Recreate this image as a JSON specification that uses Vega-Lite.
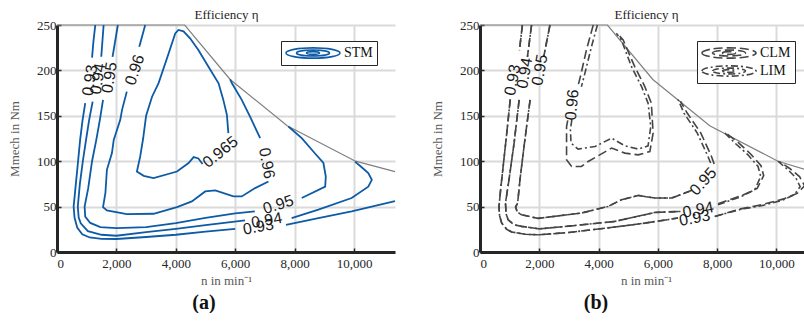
{
"$schema": "https://vega.github.io/schema/vega-lite/v6.json",
"padding": {"left": 8, "top": 8, "right": 0, "bottom": 0},
"spacing": 32,
"config": {
 "font": "Liberation Serif",
 "view": {"stroke": null},
 "style": {"guide-label": {"font": "Liberation Serif"}, "guide-title": {"font": "Liberation Serif"}},
 "legend": {"orient": "none", "legendY": 16, "padding": 4, "strokeColor": "#262626", "fillColor": "white", "labelFont": "Liberation Serif", "labelFontSize": 14, "labelColor": "#111111", "labelOffset": 3, "clipHeight": 16, "rowPadding": 2, "symbolSize": 2916, "symbolStrokeWidth": 1.6, "symbolFillColor": "transparent", "symbolType": "M-1,0A1,0.19,0,1,1,1,0A1,0.19,0,1,1,-1,0M-0.61,0A0.61,0.11,0,1,1,0.61,0A0.61,0.11,0,1,1,-0.61,0M-0.24,0A0.24,0.05,0,1,1,0.24,0A0.24,0.05,0,1,1,-0.24,0"},
 "title": {"font": "Liberation Serif", "fontSize": 20, "fontWeight": "bold", "color": "#111111", "orient": "bottom", "offset": 6}
},
"datasets": {
 "envA": [{"n":0,"M":250},{"n":4300,"M":250},{"n":5830,"M":190},{"n":7750,"M":139},{"n":10050,"M":100},{"n":11380,"M":88.5}],
 "envB": [{"n":0,"M":250},{"n":4300,"M":250},{"n":5830,"M":190},{"n":7750,"M":139},{"n":10050,"M":100},{"n":11200,"M":88.5}],
 "cA": [
  {"model":"STM","seg":"93a","i":1,"n":1290,"M":250},{"model":"STM","seg":"93a","i":2,"n":1230,"M":233},{"model":"STM","seg":"93a","i":3,"n":1180,"M":214},
  {"model":"STM","seg":"93b","i":4,"n":950,"M":164},{"model":"STM","seg":"93b","i":5,"n":860,"M":145},{"model":"STM","seg":"93b","i":6,"n":780,"M":124},{"model":"STM","seg":"93b","i":7,"n":710,"M":100},{"model":"STM","seg":"93b","i":8,"n":620,"M":70},{"model":"STM","seg":"93b","i":9,"n":560,"M":50},{"model":"STM","seg":"93b","i":10,"n":590,"M":38},{"model":"STM","seg":"93b","i":11,"n":680,"M":27},{"model":"STM","seg":"93b","i":12,"n":850,"M":19.5},{"model":"STM","seg":"93b","i":13,"n":1100,"M":16},{"model":"STM","seg":"93b","i":14,"n":1500,"M":14.5},{"model":"STM","seg":"93b","i":15,"n":2000,"M":14.3},{"model":"STM","seg":"93b","i":16,"n":3000,"M":16.5},{"model":"STM","seg":"93b","i":17,"n":4000,"M":19},{"model":"STM","seg":"93b","i":18,"n":5000,"M":22.5},{"model":"STM","seg":"93b","i":19,"n":6000,"M":25.5},
  {"model":"STM","seg":"93c","i":20,"n":7710,"M":30},{"model":"STM","seg":"93c","i":21,"n":8800,"M":37.4},{"model":"STM","seg":"93c","i":22,"n":9920,"M":44.7},{"model":"STM","seg":"93c","i":23,"n":11380,"M":56},
  {"model":"STM","seg":"94a","i":24,"n":1570,"M":250},{"model":"STM","seg":"94a","i":25,"n":1490,"M":215},
  {"model":"STM","seg":"94b","i":26,"n":1200,"M":165.6},{"model":"STM","seg":"94b","i":27,"n":1080,"M":145},{"model":"STM","seg":"94b","i":28,"n":980,"M":124},{"model":"STM","seg":"94b","i":29,"n":870,"M":100},{"model":"STM","seg":"94b","i":30,"n":770,"M":75},{"model":"STM","seg":"94b","i":31,"n":700,"M":50},{"model":"STM","seg":"94b","i":32,"n":730,"M":38},{"model":"STM","seg":"94b","i":33,"n":800,"M":31.6},{"model":"STM","seg":"94b","i":34,"n":1040,"M":23},{"model":"STM","seg":"94b","i":35,"n":1500,"M":19},{"model":"STM","seg":"94b","i":36,"n":2000,"M":17.9},{"model":"STM","seg":"94b","i":37,"n":3000,"M":22},{"model":"STM","seg":"94b","i":38,"n":4000,"M":25.5},{"model":"STM","seg":"94b","i":39,"n":5000,"M":29.5},{"model":"STM","seg":"94b","i":40,"n":6330,"M":34.8},
  {"model":"STM","seg":"94c","i":41,"n":7900,"M":37.4},{"model":"STM","seg":"94c","i":42,"n":8800,"M":46.6},{"model":"STM","seg":"94c","i":43,"n":9920,"M":59.4},{"model":"STM","seg":"94c","i":44,"n":10480,"M":72},{"model":"STM","seg":"94c","i":45,"n":10600,"M":79.5},{"model":"STM","seg":"94c","i":46,"n":10480,"M":87},{"model":"STM","seg":"94c","i":47,"n":10200,"M":95},{"model":"STM","seg":"94c","i":48,"n":10030,"M":99.5},
  {"model":"STM","seg":"95a","i":49,"n":2050,"M":250},{"model":"STM","seg":"95a","i":50,"n":1870,"M":215},
  {"model":"STM","seg":"95b","i":51,"n":1550,"M":167.5},{"model":"STM","seg":"95b","i":52,"n":1440,"M":145},{"model":"STM","seg":"95b","i":53,"n":1320,"M":123},{"model":"STM","seg":"95b","i":54,"n":1180,"M":100},{"model":"STM","seg":"95b","i":55,"n":1050,"M":70},{"model":"STM","seg":"95b","i":56,"n":930,"M":50},{"model":"STM","seg":"95b","i":57,"n":950,"M":39},{"model":"STM","seg":"95b","i":58,"n":1120,"M":32},{"model":"STM","seg":"95b","i":59,"n":1460,"M":27.5},{"model":"STM","seg":"95b","i":60,"n":2000,"M":26.2},{"model":"STM","seg":"95b","i":61,"n":3000,"M":27.5},{"model":"STM","seg":"95b","i":62,"n":4000,"M":31.9},{"model":"STM","seg":"95b","i":63,"n":5000,"M":37.5},{"model":"STM","seg":"95b","i":64,"n":6000,"M":42.5},{"model":"STM","seg":"95b","i":65,"n":6660,"M":44.7},
  {"model":"STM","seg":"95c","i":66,"n":8240,"M":59.5},{"model":"STM","seg":"95c","i":67,"n":9030,"M":72},{"model":"STM","seg":"95c","i":68,"n":9050,"M":83},{"model":"STM","seg":"95c","i":69,"n":8970,"M":98},{"model":"STM","seg":"95c","i":70,"n":8630,"M":110.7},{"model":"STM","seg":"95c","i":71,"n":8240,"M":125.4},{"model":"STM","seg":"95c","i":72,"n":7790,"M":138.2},
  {"model":"STM","seg":"96a","i":73,"n":2970,"M":250},{"model":"STM","seg":"96a","i":74,"n":2770,"M":226},
  {"model":"STM","seg":"96b","i":75,"n":2350,"M":176.6},{"model":"STM","seg":"96b","i":76,"n":2190,"M":156.5},{"model":"STM","seg":"96b","i":77,"n":2130,"M":145.5},{"model":"STM","seg":"96b","i":78,"n":1910,"M":123.5},{"model":"STM","seg":"96b","i":79,"n":1850,"M":109},{"model":"STM","seg":"96b","i":80,"n":1680,"M":90.5},{"model":"STM","seg":"96b","i":81,"n":1630,"M":65},{"model":"STM","seg":"96b","i":82,"n":1550,"M":49.5},{"model":"STM","seg":"96b","i":83,"n":1680,"M":45.7},{"model":"STM","seg":"96b","i":84,"n":2350,"M":41.8},{"model":"STM","seg":"96b","i":85,"n":3250,"M":42.1},{"model":"STM","seg":"96b","i":86,"n":4040,"M":49.5},{"model":"STM","seg":"96b","i":87,"n":4540,"M":55.7},{"model":"STM","seg":"96b","i":88,"n":4990,"M":66.7},{"model":"STM","seg":"96b","i":89,"n":5330,"M":67.8},{"model":"STM","seg":"96b","i":90,"n":5940,"M":61.2},{"model":"STM","seg":"96b","i":91,"n":6220,"M":61.2},{"model":"STM","seg":"96b","i":92,"n":6670,"M":70.4},{"model":"STM","seg":"96b","i":93,"n":7120,"M":77.7},
  {"model":"STM","seg":"96c","i":94,"n":6840,"M":125.4},{"model":"STM","seg":"96c","i":95,"n":6500,"M":149},{"model":"STM","seg":"96c","i":96,"n":6220,"M":167.5},{"model":"STM","seg":"96c","i":97,"n":5890,"M":185.8},{"model":"STM","seg":"96c","i":98,"n":5830,"M":190},
  {"model":"STM","seg":"965","i":99,"n":5770,"M":130.9},{"model":"STM","seg":"965","i":100,"n":5720,"M":151},{"model":"STM","seg":"965","i":101,"n":5600,"M":167.5},{"model":"STM","seg":"965","i":102,"n":5440,"M":185.8},{"model":"STM","seg":"965","i":103,"n":5100,"M":204},{"model":"STM","seg":"965","i":104,"n":4760,"M":222.4},{"model":"STM","seg":"965","i":105,"n":4480,"M":235.3},{"model":"STM","seg":"965","i":106,"n":4260,"M":243},{"model":"STM","seg":"965","i":107,"n":4090,"M":244.5},{"model":"STM","seg":"965","i":108,"n":3980,"M":240.8},{"model":"STM","seg":"965","i":109,"n":3760,"M":218.8},{"model":"STM","seg":"965","i":110,"n":3420,"M":186},{"model":"STM","seg":"965","i":111,"n":3200,"M":171},{"model":"STM","seg":"965","i":112,"n":3000,"M":150},{"model":"STM","seg":"965","i":113,"n":2900,"M":125},{"model":"STM","seg":"965","i":114,"n":2800,"M":105},{"model":"STM","seg":"965","i":115,"n":2690,"M":88.6},{"model":"STM","seg":"965","i":116,"n":2920,"M":83.9},{"model":"STM","seg":"965","i":117,"n":3250,"M":81.4},{"model":"STM","seg":"965","i":118,"n":4040,"M":88.6},{"model":"STM","seg":"965","i":119,"n":4430,"M":98},{"model":"STM","seg":"965","i":120,"n":4600,"M":104.5},{"model":"STM","seg":"965","i":121,"n":4760,"M":103},{"model":"STM","seg":"965","i":122,"n":4900,"M":97}
 ],
 "cB": [
  {"model":"LIM","seg":"L93a","i":1,"n":1430,"M":250},{"model":"LIM","seg":"L93a","i":2,"n":1330,"M":222},
  {"model":"LIM","seg":"L93b","i":3,"n":1020,"M":168},{"model":"LIM","seg":"L93b","i":4,"n":900,"M":130},{"model":"LIM","seg":"L93b","i":5,"n":800,"M":100},{"model":"LIM","seg":"L93b","i":6,"n":700,"M":70},{"model":"LIM","seg":"L93b","i":7,"n":640,"M":50},{"model":"LIM","seg":"L93b","i":8,"n":660,"M":40},{"model":"LIM","seg":"L93b","i":9,"n":730,"M":32},{"model":"LIM","seg":"L93b","i":10,"n":900,"M":25},{"model":"LIM","seg":"L93b","i":11,"n":1070,"M":22},{"model":"LIM","seg":"L93b","i":12,"n":1520,"M":19.5},{"model":"LIM","seg":"L93b","i":13,"n":2000,"M":19},{"model":"LIM","seg":"L93b","i":14,"n":3000,"M":21.5},{"model":"LIM","seg":"L93b","i":15,"n":4550,"M":27.5},{"model":"LIM","seg":"L93b","i":16,"n":5500,"M":31.5},{"model":"LIM","seg":"L93b","i":17,"n":6680,"M":37.4},
  {"model":"LIM","seg":"L93c","i":18,"n":7920,"M":39.2},{"model":"LIM","seg":"L93c","i":19,"n":8800,"M":47},{"model":"LIM","seg":"L93c","i":20,"n":9500,"M":51},{"model":"LIM","seg":"L93c","i":21,"n":10200,"M":57},{"model":"LIM","seg":"L93c","i":22,"n":10600,"M":63},{"model":"LIM","seg":"L93c","i":23,"n":10800,"M":72},{"model":"LIM","seg":"L93c","i":24,"n":10650,"M":82},{"model":"LIM","seg":"L93c","i":25,"n":10390,"M":90.5},{"model":"LIM","seg":"L93c","i":26,"n":10050,"M":100},
  {"model":"LIM","seg":"L94a","i":27,"n":1740,"M":250},{"model":"LIM","seg":"L94a","i":28,"n":1600,"M":215},
  {"model":"LIM","seg":"L94b","i":29,"n":1320,"M":167.5},{"model":"LIM","seg":"L94b","i":30,"n":1150,"M":120},{"model":"LIM","seg":"L94b","i":31,"n":980,"M":80},{"model":"LIM","seg":"L94b","i":32,"n":860,"M":54},{"model":"LIM","seg":"L94b","i":33,"n":880,"M":42},{"model":"LIM","seg":"L94b","i":34,"n":950,"M":35.5},{"model":"LIM","seg":"L94b","i":35,"n":1150,"M":30},{"model":"LIM","seg":"L94b","i":36,"n":1400,"M":28.2},{"model":"LIM","seg":"L94b","i":37,"n":2000,"M":25.5},{"model":"LIM","seg":"L94b","i":38,"n":3000,"M":28.5},{"model":"LIM","seg":"L94b","i":39,"n":4550,"M":33.7},{"model":"LIM","seg":"L94b","i":40,"n":5900,"M":43.6},{"model":"LIM","seg":"L94b","i":41,"n":6800,"M":44.7},
  {"model":"LIM","seg":"L94c","i":42,"n":8030,"M":52},{"model":"LIM","seg":"L94c","i":43,"n":8820,"M":61.2},{"model":"LIM","seg":"L94c","i":44,"n":9270,"M":68.5},{"model":"LIM","seg":"L94c","i":45,"n":9470,"M":83.2},{"model":"LIM","seg":"L94c","i":46,"n":9380,"M":94.2},{"model":"LIM","seg":"L94c","i":47,"n":9040,"M":107},{"model":"LIM","seg":"L94c","i":48,"n":8600,"M":120},{"model":"LIM","seg":"L94c","i":49,"n":8260,"M":131},
  {"model":"LIM","seg":"L95a","i":50,"n":2360,"M":250},{"model":"LIM","seg":"L95a","i":51,"n":2150,"M":215},
  {"model":"LIM","seg":"L95b","i":52,"n":1690,"M":167.5},{"model":"LIM","seg":"L95b","i":53,"n":1500,"M":120},{"model":"LIM","seg":"L95b","i":54,"n":1350,"M":80},{"model":"LIM","seg":"L95b","i":55,"n":1270,"M":54},{"model":"LIM","seg":"L95b","i":56,"n":1200,"M":49.5},{"model":"LIM","seg":"L95b","i":57,"n":1260,"M":44},{"model":"LIM","seg":"L95b","i":58,"n":1400,"M":41},{"model":"LIM","seg":"L95b","i":59,"n":1960,"M":37},{"model":"LIM","seg":"L95b","i":60,"n":3420,"M":42.9},{"model":"LIM","seg":"L95b","i":61,"n":4320,"M":50.2},{"model":"LIM","seg":"L95b","i":62,"n":4770,"M":57.5},{"model":"LIM","seg":"L95b","i":63,"n":5340,"M":62.3},{"model":"LIM","seg":"L95b","i":64,"n":5900,"M":59.4},{"model":"LIM","seg":"L95b","i":65,"n":6460,"M":59.4},{"model":"LIM","seg":"L95b","i":66,"n":6910,"M":64.9},{"model":"LIM","seg":"L95b","i":67,"n":7150,"M":68},
  {"model":"LIM","seg":"L95c","i":68,"n":7780,"M":98},{"model":"LIM","seg":"L95c","i":69,"n":7680,"M":106},{"model":"LIM","seg":"L95c","i":70,"n":7330,"M":131},{"model":"LIM","seg":"L95c","i":71,"n":6880,"M":153},{"model":"LIM","seg":"L95c","i":72,"n":6680,"M":168},
  {"model":"LIM","seg":"L96a","i":73,"n":3960,"M":250},{"model":"LIM","seg":"L96a","i":74,"n":3760,"M":226},{"model":"LIM","seg":"L96a","i":75,"n":3540,"M":197},{"model":"LIM","seg":"L96a","i":76,"n":3420,"M":182},
  {"model":"LIM","seg":"L96b","i":77,"n":3100,"M":146},{"model":"LIM","seg":"L96b","i":78,"n":3050,"M":135},{"model":"LIM","seg":"L96b","i":79,"n":3070,"M":119.9},{"model":"LIM","seg":"L96b","i":80,"n":3310,"M":113.3},{"model":"LIM","seg":"L96b","i":81,"n":3880,"M":116.2},{"model":"LIM","seg":"L96b","i":82,"n":4440,"M":125.4},{"model":"LIM","seg":"L96b","i":83,"n":4890,"M":116.9},{"model":"LIM","seg":"L96b","i":84,"n":5340,"M":113.3},{"model":"LIM","seg":"L96b","i":85,"n":5670,"M":116.9},{"model":"LIM","seg":"L96b","i":86,"n":5760,"M":138.1},{"model":"LIM","seg":"L96b","i":87,"n":5670,"M":163.9},{"model":"LIM","seg":"L96b","i":88,"n":5450,"M":182.2},{"model":"LIM","seg":"L96b","i":89,"n":5110,"M":204.1},{"model":"LIM","seg":"L96b","i":90,"n":4770,"M":233.5},{"model":"LIM","seg":"L96b","i":91,"n":4600,"M":241},
  {"model":"CLM","seg":"C93a","i":101,"n":1430,"M":250},{"model":"CLM","seg":"C93a","i":102,"n":1330,"M":222},
  {"model":"CLM","seg":"C93b","i":103,"n":1020,"M":168},{"model":"CLM","seg":"C93b","i":104,"n":900,"M":130},{"model":"CLM","seg":"C93b","i":105,"n":800,"M":100},{"model":"CLM","seg":"C93b","i":106,"n":700,"M":70},{"model":"CLM","seg":"C93b","i":107,"n":640,"M":50},{"model":"CLM","seg":"C93b","i":108,"n":660,"M":40},{"model":"CLM","seg":"C93b","i":109,"n":730,"M":32},{"model":"CLM","seg":"C93b","i":110,"n":900,"M":25},{"model":"CLM","seg":"C93b","i":111,"n":1070,"M":22},{"model":"CLM","seg":"C93b","i":112,"n":1520,"M":19.5},{"model":"CLM","seg":"C93b","i":113,"n":2000,"M":19},{"model":"CLM","seg":"C93b","i":114,"n":3000,"M":21.5},{"model":"CLM","seg":"C93b","i":115,"n":4550,"M":27.5},{"model":"CLM","seg":"C93b","i":116,"n":5500,"M":31.5},{"model":"CLM","seg":"C93b","i":117,"n":6680,"M":37.4},
  {"model":"CLM","seg":"C93c","i":118,"n":7920,"M":39.2},{"model":"CLM","seg":"C93c","i":119,"n":8800,"M":47.5},{"model":"CLM","seg":"C93c","i":120,"n":9500,"M":52},{"model":"CLM","seg":"C93c","i":121,"n":10250,"M":58.5},{"model":"CLM","seg":"C93c","i":122,"n":10700,"M":64.5},{"model":"CLM","seg":"C93c","i":123,"n":10950,"M":73},{"model":"CLM","seg":"C93c","i":124,"n":10780,"M":83},{"model":"CLM","seg":"C93c","i":125,"n":10450,"M":92},{"model":"CLM","seg":"C93c","i":126,"n":10100,"M":99.5},
  {"model":"CLM","seg":"C94a","i":127,"n":1740,"M":250},{"model":"CLM","seg":"C94a","i":128,"n":1600,"M":215},
  {"model":"CLM","seg":"C94b","i":129,"n":1320,"M":167.5},{"model":"CLM","seg":"C94b","i":130,"n":1150,"M":120},{"model":"CLM","seg":"C94b","i":131,"n":980,"M":80},{"model":"CLM","seg":"C94b","i":132,"n":860,"M":54},{"model":"CLM","seg":"C94b","i":133,"n":880,"M":42},{"model":"CLM","seg":"C94b","i":134,"n":950,"M":35.5},{"model":"CLM","seg":"C94b","i":135,"n":1150,"M":30},{"model":"CLM","seg":"C94b","i":136,"n":1400,"M":28.2},{"model":"CLM","seg":"C94b","i":137,"n":2000,"M":25.5},{"model":"CLM","seg":"C94b","i":138,"n":3000,"M":28.5},{"model":"CLM","seg":"C94b","i":139,"n":4550,"M":33.7},{"model":"CLM","seg":"C94b","i":140,"n":5900,"M":43.6},{"model":"CLM","seg":"C94b","i":141,"n":6800,"M":44.7},
  {"model":"CLM","seg":"C94c","i":142,"n":8030,"M":53},{"model":"CLM","seg":"C94c","i":143,"n":8850,"M":62.5},{"model":"CLM","seg":"C94c","i":144,"n":9350,"M":70},{"model":"CLM","seg":"C94c","i":145,"n":9570,"M":84},{"model":"CLM","seg":"C94c","i":146,"n":9480,"M":95},{"model":"CLM","seg":"C94c","i":147,"n":9130,"M":108},{"model":"CLM","seg":"C94c","i":148,"n":8700,"M":121},{"model":"CLM","seg":"C94c","i":149,"n":8330,"M":130},
  {"model":"CLM","seg":"C95a","i":150,"n":2360,"M":250},{"model":"CLM","seg":"C95a","i":151,"n":2150,"M":215},
  {"model":"CLM","seg":"C95b","i":152,"n":1690,"M":167.5},{"model":"CLM","seg":"C95b","i":153,"n":1500,"M":120},{"model":"CLM","seg":"C95b","i":154,"n":1350,"M":80},{"model":"CLM","seg":"C95b","i":155,"n":1270,"M":54},{"model":"CLM","seg":"C95b","i":156,"n":1200,"M":49.5},{"model":"CLM","seg":"C95b","i":157,"n":1260,"M":44},{"model":"CLM","seg":"C95b","i":158,"n":1400,"M":41},{"model":"CLM","seg":"C95b","i":159,"n":1960,"M":37},{"model":"CLM","seg":"C95b","i":160,"n":3420,"M":42.9},{"model":"CLM","seg":"C95b","i":161,"n":4320,"M":50.2},{"model":"CLM","seg":"C95b","i":162,"n":4770,"M":57.5},{"model":"CLM","seg":"C95b","i":163,"n":5340,"M":62.3},{"model":"CLM","seg":"C95b","i":164,"n":5900,"M":59.4},{"model":"CLM","seg":"C95b","i":165,"n":6460,"M":59.4},{"model":"CLM","seg":"C95b","i":166,"n":6910,"M":64.9},{"model":"CLM","seg":"C95b","i":167,"n":7150,"M":68},
  {"model":"CLM","seg":"C95c","i":168,"n":7900,"M":97},{"model":"CLM","seg":"C95c","i":169,"n":7800,"M":106},{"model":"CLM","seg":"C95c","i":170,"n":7450,"M":131},{"model":"CLM","seg":"C95c","i":171,"n":6990,"M":153},{"model":"CLM","seg":"C95c","i":172,"n":6760,"M":166},
  {"model":"CLM","seg":"C96a","i":173,"n":3820,"M":250},{"model":"CLM","seg":"C96a","i":174,"n":3590,"M":222.5},{"model":"CLM","seg":"C96a","i":175,"n":3400,"M":195},{"model":"CLM","seg":"C96a","i":176,"n":3300,"M":182},
  {"model":"CLM","seg":"C96b","i":177,"n":2960,"M":145},{"model":"CLM","seg":"C96b","i":178,"n":2920,"M":138.1},{"model":"CLM","seg":"C96b","i":179,"n":2920,"M":101.5},{"model":"CLM","seg":"C96b","i":180,"n":3090,"M":94.2},{"model":"CLM","seg":"C96b","i":181,"n":3420,"M":94.2},{"model":"CLM","seg":"C96b","i":182,"n":3650,"M":99.7},{"model":"CLM","seg":"C96b","i":183,"n":4440,"M":114.4},{"model":"CLM","seg":"C96b","i":184,"n":4890,"M":108.9},{"model":"CLM","seg":"C96b","i":185,"n":5340,"M":107},{"model":"CLM","seg":"C96b","i":186,"n":5730,"M":110.6},{"model":"CLM","seg":"C96b","i":187,"n":5840,"M":130.9},{"model":"CLM","seg":"C96b","i":188,"n":5780,"M":163.9},{"model":"CLM","seg":"C96b","i":189,"n":5560,"M":182.2},{"model":"CLM","seg":"C96b","i":190,"n":5220,"M":204.1},{"model":"CLM","seg":"C96b","i":191,"n":4830,"M":233.5},{"model":"CLM","seg":"C96b","i":192,"n":4650,"M":240}
 ],
 "lA": [
  {"lvl":"0.93","g":"v","n":1110,"M":189},{"lvl":"0.94","g":"v","n":1380,"M":190.6},{"lvl":"0.95","g":"v","n":1770,"M":192},
  {"lvl":"0.96","g":"v2","n":2620,"M":200.5},
  {"lvl":"0.965","g":"d","n":5500,"M":110},
  {"lvl":"0.96","g":"r","n":7060,"M":97.7},
  {"lvl":"0.95","g":"s","n":7450,"M":52},
  {"lvl":"0.94","g":"h","n":7060,"M":34.8},{"lvl":"0.93","g":"h","n":6780,"M":27.5}
 ],
 "lB": [
  {"lvl":"0.93","g":"v","n":1100,"M":189.5},{"lvl":"0.94","g":"v","n":1510,"M":197},{"lvl":"0.95","g":"v","n":2020,"M":200.5},
  {"lvl":"0.96","g":"v2","n":3110,"M":162},
  {"lvl":"0.95","g":"d","n":7530,"M":77.6},
  {"lvl":"0.94","g":"h","n":7360,"M":46.5},{"lvl":"0.93","g":"h","n":7240,"M":37.2}
 ]
},
"hconcat": [
 {
  "width": 338, "height": 227,
  "title": {"text": "(a)", "dx": -22},
  "resolve": {"axis": {"x": "independent"}},
  "layer": [
   {"data": {"name": "envA"}, "mark": {"type": "line", "color": "#808080", "strokeWidth": 1.2},
    "encoding": {
     "x": {"field": "n", "type": "quantitative", "scale": {"domain": [0, 11380], "nice": false}, "axis": {"orient": "bottom", "values": [0, 2000, 4000, 6000, 8000, 10000], "format": ",d", "title": "n in min⁻¹", "labelFont": "Liberation Serif", "labelFontSize": 13, "labelColor": "#262626", "labelPadding": 9, "titleFont": "Liberation Serif", "titleFontSize": 13, "titleFontWeight": "normal", "titleColor": "#595959", "titlePadding": 4, "gridColor": "#dadada", "gridWidth": 2, "domainColor": "#262626", "domainWidth": 3, "ticks": true, "tickColor": "#262626", "tickWidth": 1.5, "tickSize": -4}},
     "y": {"field": "M", "type": "quantitative", "scale": {"domain": [0, 250], "nice": false}, "axis": {"values": [0, 50, 100, 150, 200, 250], "title": "Mmech in Nm", "labelFont": "Liberation Serif", "labelFontSize": 13, "labelColor": "#262626", "labelPadding": 5, "titleFont": "Liberation Serif", "titleFontSize": 13, "titleFontWeight": "normal", "titleColor": "#595959", "titlePadding": 15, "gridColor": "#dadada", "gridWidth": 2, "domainColor": "#262626", "domainWidth": 3, "ticks": true, "tickColor": "#262626", "tickWidth": 1.5, "tickSize": -4}}
    }},
   {"data": {"name": "cA"}, "mark": {"type": "line", "strokeWidth": 1.8},
    "encoding": {
     "x": {"field": "n", "type": "quantitative", "axis": {"orient": "top", "title": "Efficiency η", "labels": false, "ticks": false, "domain": false, "grid": false, "titleFont": "Liberation Serif", "titleFontSize": 13, "titleFontWeight": "normal", "titleColor": "#262626", "titlePadding": 4}},
     "y": {"field": "M", "type": "quantitative"},
     "detail": {"field": "seg"},
     "order": {"field": "i", "type": "quantitative"},
     "stroke": {"field": "model", "type": "nominal", "scale": {"range": ["#0d5ba6"]}, "legend": {"title": null, "legendX": 224}}
    }},
   {"data": {"name": "lA"}, "transform": [{"filter": "datum.g == 'v'"}], "mark": {"type": "text", "angle": 279, "font": "Liberation Sans", "fontSize": 16, "color": "#1a1a1a"},
    "encoding": {"x": {"field": "n", "type": "quantitative", "axis": null}, "y": {"field": "M", "type": "quantitative"}, "text": {"field": "lvl"}}},
   {"data": {"name": "lA"}, "transform": [{"filter": "datum.g == 'v2'"}], "mark": {"type": "text", "angle": 288, "font": "Liberation Sans", "fontSize": 16, "color": "#1a1a1a"},
    "encoding": {"x": {"field": "n", "type": "quantitative", "axis": null}, "y": {"field": "M", "type": "quantitative"}, "text": {"field": "lvl"}}},
   {"data": {"name": "lA"}, "transform": [{"filter": "datum.g == 'd'"}], "mark": {"type": "text", "angle": 321, "font": "Liberation Sans", "fontSize": 16, "color": "#1a1a1a"},
    "encoding": {"x": {"field": "n", "type": "quantitative", "axis": null}, "y": {"field": "M", "type": "quantitative"}, "text": {"field": "lvl"}}},
   {"data": {"name": "lA"}, "transform": [{"filter": "datum.g == 'r'"}], "mark": {"type": "text", "angle": 80, "font": "Liberation Sans", "fontSize": 16, "color": "#1a1a1a"},
    "encoding": {"x": {"field": "n", "type": "quantitative", "axis": null}, "y": {"field": "M", "type": "quantitative"}, "text": {"field": "lvl"}}},
   {"data": {"name": "lA"}, "transform": [{"filter": "datum.g == 's'"}], "mark": {"type": "text", "angle": 342, "font": "Liberation Sans", "fontSize": 16, "color": "#1a1a1a"},
    "encoding": {"x": {"field": "n", "type": "quantitative", "axis": null}, "y": {"field": "M", "type": "quantitative"}, "text": {"field": "lvl"}}},
   {"data": {"name": "lA"}, "transform": [{"filter": "datum.g == 'h'"}], "mark": {"type": "text", "angle": 350, "font": "Liberation Sans", "fontSize": 16, "color": "#1a1a1a"},
    "encoding": {"x": {"field": "n", "type": "quantitative", "axis": null}, "y": {"field": "M", "type": "quantitative"}, "text": {"field": "lvl"}}}
  ]
 },
 {
  "width": 332, "height": 227,
  "title": {"text": "(b)", "dx": -50},
  "resolve": {"axis": {"x": "independent"}},
  "layer": [
   {"data": {"name": "envB"}, "mark": {"type": "line", "color": "#808080", "strokeWidth": 1.2},
    "encoding": {
     "x": {"field": "n", "type": "quantitative", "scale": {"domain": [0, 11200], "nice": false}, "axis": {"orient": "bottom", "values": [0, 2000, 4000, 6000, 8000, 10000], "format": ",d", "title": "n in min⁻¹", "labelFont": "Liberation Serif", "labelFontSize": 13, "labelColor": "#262626", "labelPadding": 9, "titleFont": "Liberation Serif", "titleFontSize": 13, "titleFontWeight": "normal", "titleColor": "#595959", "titlePadding": 4, "gridColor": "#dadada", "gridWidth": 2, "domainColor": "#262626", "domainWidth": 3, "ticks": true, "tickColor": "#262626", "tickWidth": 1.5, "tickSize": -4}},
     "y": {"field": "M", "type": "quantitative", "scale": {"domain": [0, 250], "nice": false}, "axis": {"values": [0, 50, 100, 150, 200, 250], "title": "Mmech in Nm", "labelFont": "Liberation Serif", "labelFontSize": 13, "labelColor": "#262626", "labelPadding": 5, "titleFont": "Liberation Serif", "titleFontSize": 13, "titleFontWeight": "normal", "titleColor": "#595959", "titlePadding": 15, "gridColor": "#dadada", "gridWidth": 2, "domainColor": "#262626", "domainWidth": 3, "ticks": true, "tickColor": "#262626", "tickWidth": 1.5, "tickSize": -4}}
    }},
   {"data": {"name": "cB"}, "mark": {"type": "line", "strokeWidth": 1.6, "color": "#454545"},
    "encoding": {
     "x": {"field": "n", "type": "quantitative", "axis": {"orient": "top", "title": "Efficiency η", "labels": false, "ticks": false, "domain": false, "grid": false, "titleFont": "Liberation Serif", "titleFontSize": 13, "titleFontWeight": "normal", "titleColor": "#262626", "titlePadding": 4}},
     "y": {"field": "M", "type": "quantitative"},
     "detail": {"field": "seg"},
     "order": {"field": "i", "type": "quantitative"},
     "strokeDash": {"field": "model", "type": "nominal", "scale": {"domain": ["CLM", "LIM"], "range": [[9, 4], [7, 3, 2, 3]]}, "legend": {"title": null, "legendX": 640, "symbolStrokeColor": "#454545"}}
    }},
   {"data": {"name": "lB"}, "transform": [{"filter": "datum.g == 'v'"}], "mark": {"type": "text", "angle": 280, "font": "Liberation Sans", "fontSize": 16, "color": "#1a1a1a"},
    "encoding": {"x": {"field": "n", "type": "quantitative", "axis": null}, "y": {"field": "M", "type": "quantitative"}, "text": {"field": "lvl"}}},
   {"data": {"name": "lB"}, "transform": [{"filter": "datum.g == 'v2'"}], "mark": {"type": "text", "angle": 275, "font": "Liberation Sans", "fontSize": 16, "color": "#1a1a1a"},
    "encoding": {"x": {"field": "n", "type": "quantitative", "axis": null}, "y": {"field": "M", "type": "quantitative"}, "text": {"field": "lvl"}}},
   {"data": {"name": "lB"}, "transform": [{"filter": "datum.g == 'd'"}], "mark": {"type": "text", "angle": 312, "font": "Liberation Sans", "fontSize": 16, "color": "#1a1a1a"},
    "encoding": {"x": {"field": "n", "type": "quantitative", "axis": null}, "y": {"field": "M", "type": "quantitative"}, "text": {"field": "lvl"}}},
   {"data": {"name": "lB"}, "transform": [{"filter": "datum.g == 'h'"}], "mark": {"type": "text", "angle": 349, "font": "Liberation Sans", "fontSize": 16, "color": "#1a1a1a"},
    "encoding": {"x": {"field": "n", "type": "quantitative", "axis": null}, "y": {"field": "M", "type": "quantitative"}, "text": {"field": "lvl"}}}
  ]
 }
]
}
